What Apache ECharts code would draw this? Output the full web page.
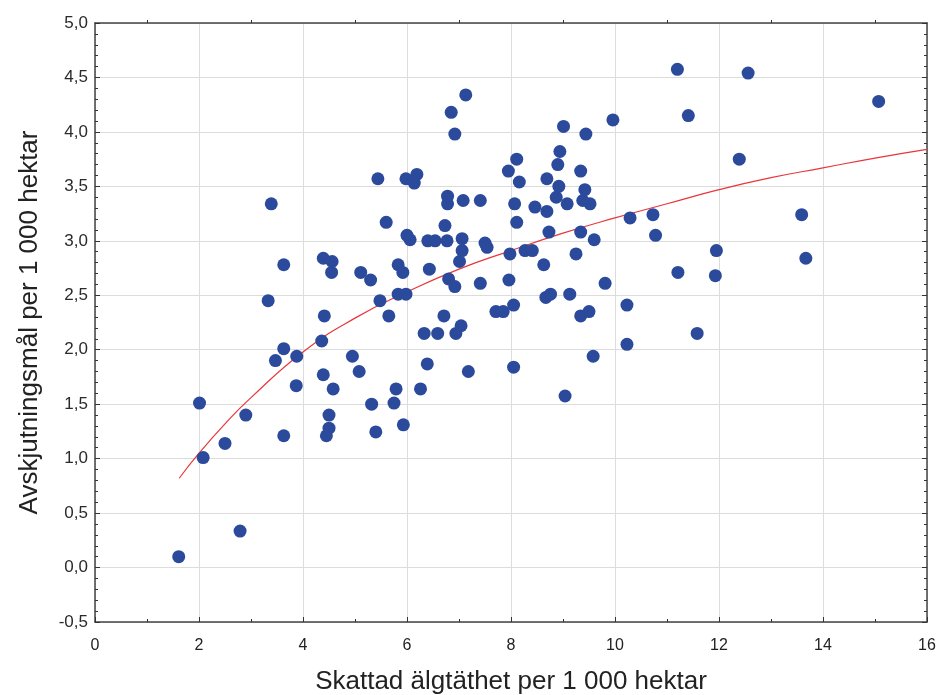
<!DOCTYPE html>
<html>
<head>
<meta charset="utf-8">
<script src="https://cdn.jsdelivr.net/npm/echarts@6/dist/echarts.min.js"></script>
<style>
  html, body { margin: 0; padding: 0; background: #fff; }
  #chart { width: 939px; height: 695px; }
</style>
</head>
<body>
<div id="chart"></div>
<script>
// älgtäthet (x) och avskjutningsmål (y), avlästa punkter
const densityX = [
  1.61, 2.79, 2.08, 2.01, 2.50, 2.90, 3.39, 3.33, 3.63, 3.63, 3.63, 3.47, 3.88, 3.87,
  4.39, 4.56, 4.55, 4.41, 4.36, 4.39, 4.58, 4.50, 4.50, 4.45, 4.95, 5.08, 5.11, 5.30,
  5.32, 5.40, 5.44, 5.48, 5.60, 5.65, 5.75, 5.79, 5.83, 5.92, 5.83, 5.98, 5.93, 5.98,
  6.19, 6.14, 6.00, 6.06, 6.40, 6.54, 6.77, 6.43, 6.33, 6.26, 6.39, 6.59, 6.71, 6.73,
  6.78, 6.78, 6.80, 6.85, 6.92, 6.92, 6.94, 7.01, 7.04, 7.06, 7.06, 7.08, 7.13, 7.18,
  7.41, 7.41, 7.50, 7.54, 7.71, 7.85, 7.95, 7.96, 7.98, 8.05, 8.05, 8.07, 8.11, 8.11,
  8.16, 8.27, 8.41, 8.46, 8.63, 8.67, 8.76, 8.69, 8.69, 8.73, 8.87, 8.90, 8.92, 8.94,
  9.01, 9.04, 9.08, 9.13, 9.25, 9.34, 9.34, 9.34, 9.38, 9.42, 9.44, 9.50, 9.52, 9.58,
  9.60, 9.81, 9.96, 10.23, 10.23, 10.29, 10.73, 10.78, 11.20, 11.21, 11.41, 11.58, 11.93,
  11.95, 12.39, 12.56, 13.59, 13.67, 15.07
];
const targetY = [
  0.10, 0.335, 1.01, 1.51, 1.14, 1.40, 3.34, 2.45, 2.78, 2.01, 1.21, 1.90, 1.94, 1.67,
  2.84, 2.81, 2.71, 2.31, 2.08, 1.77, 1.64, 1.40, 1.28, 1.21, 1.94, 1.80, 2.71, 2.64,
  1.50, 1.245, 3.57, 2.45, 3.17, 2.31, 1.51, 1.64, 2.78, 2.71, 2.51, 2.51, 1.31, 3.57,
  3.61, 3.53, 3.05, 3.01, 3.00, 3.00, 3.00, 2.74, 2.15, 1.64, 1.87, 2.15, 2.31, 3.14,
  3.41, 3.34, 2.65, 4.18, 3.98, 2.58, 2.15, 2.81, 2.22, 3.02, 2.91, 3.37, 4.34, 1.80,
  3.37, 2.61, 2.98, 2.94, 2.35, 2.35, 3.64, 2.64, 2.88, 2.41, 1.84, 3.34, 3.75, 3.17,
  3.54, 2.91, 2.91, 3.31, 2.78, 2.48, 2.51, 3.57, 3.27, 3.08, 3.40, 3.70, 3.50, 3.82,
  4.05, 1.575, 3.34, 2.51, 2.88, 3.64, 3.08, 2.31, 3.37, 3.47, 3.98, 2.35, 3.34, 1.94,
  3.01, 2.61, 4.11, 2.41, 2.05, 3.21, 3.24, 3.05, 4.575, 2.71, 4.15, 2.15, 2.68,
  2.91, 3.75, 4.54, 3.24, 2.84, 4.28
];

// anpassad kurva, avläst längs den röda linjen
const fitX = [1.62, 2, 2.5, 3, 4, 5, 6, 7, 8, 9, 10, 11, 12, 13, 14, 15, 16];
const fitY = [0.82, 1.05, 1.32, 1.56, 1.98, 2.29, 2.53, 2.74, 2.91, 3.07, 3.21, 3.34, 3.47, 3.58, 3.67, 3.76, 3.84];

const xTicks = { min: 0, max: 16, step: 2 };
const yTicks = { min: -0.5, max: 5.0, step: 0.5 };

const chart = echarts.init(document.getElementById('chart'), null, { renderer: 'canvas' });

const frameLine = { show: true, onZero: false, lineStyle: { color: '#444', width: 1.5 } };
const tickIn = { show: true, inside: true, length: 5, lineStyle: { color: '#333' } };
const minorIn = { show: true, length: 3, lineStyle: { color: '#333' } };
const fontFam = '"Liberation Sans", Arial, sans-serif';

const option = {
  animation: false,
  backgroundColor: '#fff',
  grid: { left: 95, right: 12, top: 23, bottom: 73, outerBoundsMode: 'none' },
  xAxis: [
    {
      type: 'value',
      min: xTicks.min,
      max: xTicks.max,
      interval: xTicks.step,
      position: 'bottom',
      name: 'Skattad älgtäthet per 1 000 hektar',
      nameLocation: 'middle',
      nameGap: 47,
      nameTextStyle: { fontSize: 26, color: '#222', fontFamily: fontFam },
      axisLine: frameLine,
      axisTick: tickIn,
      minorTick: Object.assign({ splitNumber: 2 }, minorIn),
      axisLabel: { fontSize: 16, color: '#222', margin: 16, fontFamily: fontFam },
      splitLine: { show: true, lineStyle: { color: '#dcdcdc', width: 1 } },
    },
    {
      type: 'value',
      min: xTicks.min,
      max: xTicks.max,
      interval: xTicks.step,
      position: 'top',
      axisLine: frameLine,
      axisTick: { show: false },
      minorTick: Object.assign({ splitNumber: 2 }, minorIn),
      axisLabel: { show: false },
      splitLine: { show: false },
    },
  ],
  yAxis: [
    {
      type: 'value',
      min: yTicks.min,
      max: yTicks.max,
      interval: yTicks.step,
      position: 'left',
      name: 'Avskjutningsmål per 1 000 hektar',
      nameLocation: 'middle',
      nameGap: 52,
      nameTextStyle: { fontSize: 26, color: '#222', fontFamily: fontFam },
      axisLine: frameLine,
      axisTick: tickIn,
      minorTick: Object.assign({ splitNumber: 5 }, minorIn),
      axisLabel: {
        fontSize: 17,
        color: '#2a2a2a',
        margin: 7,
        fontFamily: fontFam,
        formatter: (v) => v.toFixed(1).replace('.', ','),
      },
      splitLine: { show: true, lineStyle: { color: '#dcdcdc', width: 1 } },
    },
    {
      type: 'value',
      min: yTicks.min,
      max: yTicks.max,
      interval: yTicks.step,
      position: 'right',
      axisLine: frameLine,
      axisTick: tickIn,
      minorTick: Object.assign({ splitNumber: 5 }, minorIn),
      axisLabel: { show: false },
      splitLine: { show: false },
    },
  ],
  series: [
    {
      type: 'line',
      data: fitX.map((x, i) => [x, fitY[i]]),
      smooth: true,
      symbol: 'none',
      z: 3,
      lineStyle: { color: '#e8373b', width: 1.2 },
    },
    {
      type: 'scatter',
      data: densityX.map((x, i) => [x, targetY[i]]),
      symbolSize: 13,
      z: 4,
      itemStyle: { color: '#2b4a9b', opacity: 1 },
    },
  ],
};

chart.setOption(option);
</script>
</body>
</html>
